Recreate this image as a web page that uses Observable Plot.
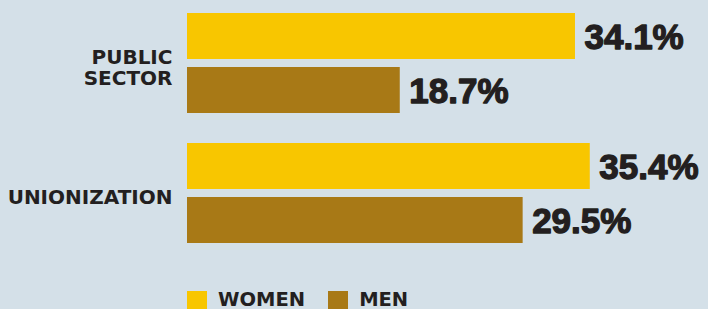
<!DOCTYPE html>
<html>
<head>
<meta charset="utf-8">
<script src="https://cdn.jsdelivr.net/npm/d3@7"></script>
<script src="https://cdn.jsdelivr.net/npm/@observablehq/plot@0.6"></script>
<style>
  html, body { margin: 0; padding: 0; background: #d4e0e8; }
  #wrap { position: relative; width: 708px; height: 309px; overflow: hidden; background: #d4e0e8; }
  #legend { position: absolute; left: 187px; top: 290px; display: flex; align-items: flex-start;
    font-family: "DejaVu Sans", sans-serif; font-weight: bold; font-size: 19.5px; line-height: 20px; color: #231f20; }
  .item { display: flex; align-items: flex-start; margin-right: 23px; }
  .sw { width: 20px; height: 20px; margin-top: 1px; margin-right: 11px; }
</style>
</head>
<body>
<div id="wrap"><div id="chart"></div><div id="legend"></div></div>
<script>
const groups = ["PUBLIC SECTOR", "UNIONIZATION"];
const groupLabels = ["PUBLIC\nSECTOR", "UNIONIZATION"];
const genders = ["WOMEN", "MEN"];
const women = [34.1, 35.4];
const men = [18.7, 29.5];
const colors = ["#f8c600", "#a87916"];

const data = [];
groups.forEach((g, i) => {
  data.push({group: g, gender: "WOMEN", value: women[i]});
  data.push({group: g, gender: "MEN", value: men[i]});
});
const labelRows = groups.map((g, i) => ({group: g, label: groupLabels[i]}));

const chart = Plot.plot({
  width: 708,
  height: 291,
  marginLeft: 187,
  marginRight: 9,
  marginTop: 13,
  marginBottom: 48,
  style: {background: "#d4e0e8"},
  x: {domain: [0, 45], axis: null},
  fy: {domain: groups, paddingInner: 30 / 130, paddingOuter: 0, axis: null, label: null},
  y: {domain: genders, paddingInner: 8 / 54, paddingOuter: 0, axis: null, label: null},
  color: {domain: genders, range: colors},
  marks: [
    Plot.barX(data, {fy: "group", y: "gender", x: "value", fill: "gender"}),
    Plot.text(data, {
      fy: "group", y: "gender", x: "value",
      text: d => d.value.toFixed(1) + "%",
      textAnchor: "start", dx: 9, dy: 1,
      fontFamily: "Liberation Sans", fontWeight: "bold", fontSize: 35,
      fill: "#231f20", stroke: "#231f20", strokeWidth: 1.3
    }),
    Plot.text(labelRows, {
      fy: "group", text: "label", frameAnchor: "left",
      textAnchor: "end", dx: -15, dy: 4, lineHeight: 1.07,
      fontFamily: "DejaVu Sans", fontWeight: "bold", fontSize: 20,
      fill: "#231f20"
    })
  ]
});
document.getElementById("chart").appendChild(chart);

const legend = document.getElementById("legend");
genders.forEach((g, i) => {
  const item = document.createElement("div");
  item.className = "item";
  const sw = document.createElement("div");
  sw.className = "sw";
  sw.style.background = colors[i];
  const t = document.createElement("span");
  t.textContent = g;
  item.appendChild(sw);
  item.appendChild(t);
  legend.appendChild(item);
});
</script>
</body>
</html>
